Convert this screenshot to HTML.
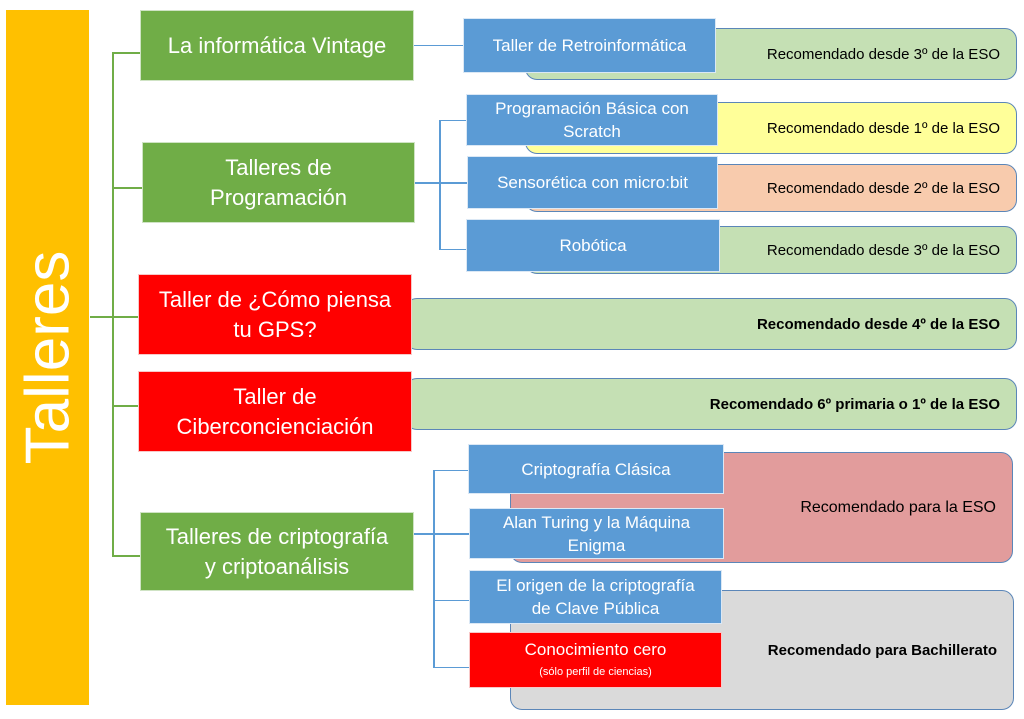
<!DOCTYPE html>
<html><head><meta charset="utf-8"><style>
body{margin:0;width:1024px;height:719px;background:#fff;position:relative;overflow:hidden;font-family:"Liberation Sans",sans-serif}
.a{position:absolute;box-sizing:border-box;display:flex;align-items:center;justify-content:center;text-align:center;color:#fff}
.g{background:#70ad47;font-size:22px;line-height:30px;border:1px solid #cfe3c4}
.r{background:#ff0000;font-size:22px;line-height:30px;border:1px solid #f8c8c8}
.b{background:#5b9bd5;font-size:17px;line-height:23px;border:1px solid #dbe8f5}
.rec{position:absolute;box-sizing:border-box;border:1.5px solid #5b86b8;border-radius:12px;display:flex;align-items:center;justify-content:flex-end;padding-right:16px;color:#000;font-size:15px}
.l{position:absolute;background:#70ad47}
.bl{position:absolute;background:#5b9bd5}
</style></head><body>
<div class="a" style="left:6px;top:10px;width:83px;height:695px;background:#ffc000"><div style="transform:rotate(-90deg);font-size:62px;white-space:nowrap;margin-top:0px">Talleres</div></div>
<div class="l" style="left:112px;top:52px;width:2px;height:504px"></div>
<div class="l" style="left:90px;top:316px;width:48px;height:2px"></div>
<div class="l" style="left:112px;top:52px;width:28px;height:2px"></div>
<div class="l" style="left:112px;top:187px;width:30px;height:2px"></div>
<div class="l" style="left:112px;top:405px;width:26px;height:2px"></div>
<div class="l" style="left:112px;top:555px;width:28px;height:2px"></div>

<div class="rec" style="left:525px;top:28px;width:492px;height:52px;background:#c5e0b4">Recomendado desde 3º de la ESO</div>
<div class="rec" style="left:525px;top:102px;width:492px;height:52px;background:#ffff99">Recomendado desde 1º de la ESO</div>
<div class="rec" style="left:525px;top:164px;width:492px;height:48px;background:#f8cbad">Recomendado desde 2º de la ESO</div>
<div class="rec" style="left:525px;top:226px;width:492px;height:48px;background:#c5e0b4">Recomendado desde 3º de la ESO</div>
<div class="rec" style="left:405px;top:298px;width:612px;height:52px;background:#c5e0b4;font-weight:bold">Recomendado desde 4º de la ESO</div>
<div class="rec" style="left:405px;top:378px;width:612px;height:52px;background:#c5e0b4;font-weight:bold">Recomendado 6º primaria o 1º de la ESO</div>
<div class="rec" style="left:510px;top:452px;width:503px;height:111px;background:#e29c9c;align-items:flex-start;padding-top:46px;font-size:16px">Recomendado para la ESO</div>
<div class="rec" style="left:510px;top:590px;width:504px;height:120px;background:#dadada;font-weight:bold">Recomendado para Bachillerato</div>

<div class="a g" style="left:140px;top:10px;width:274px;height:71px">La informática Vintage</div>
<div class="a g" style="left:142px;top:142px;width:273px;height:81px">Talleres de<br>Programación</div>
<div class="a r" style="left:138px;top:274px;width:274px;height:81px">Taller de ¿Cómo piensa<br>tu GPS?</div>
<div class="a r" style="left:138px;top:371px;width:274px;height:81px">Taller de<br>Ciberconcienciación</div>
<div class="a g" style="left:140px;top:512px;width:274px;height:79px">Talleres de criptografía<br>y criptoanálisis</div>

<div class="bl" style="left:414px;top:45px;width:49px;height:1px"></div>
<div class="bl" style="left:415px;top:182px;width:52px;height:2px"></div>
<div class="bl" style="left:439px;top:120px;width:2px;height:130px"></div>
<div class="bl" style="left:439px;top:120px;width:27px;height:1px"></div>
<div class="bl" style="left:439px;top:249px;width:27px;height:1px"></div>
<div class="bl" style="left:414px;top:533px;width:55px;height:2px"></div>
<div class="bl" style="left:433px;top:470px;width:2px;height:198px"></div>
<div class="bl" style="left:433px;top:470px;width:35px;height:1px"></div>
<div class="bl" style="left:433px;top:600px;width:36px;height:1px"></div>
<div class="bl" style="left:433px;top:667px;width:36px;height:1px"></div>

<div class="a b" style="left:463px;top:18px;width:253px;height:55px">Taller de Retroinformática</div>
<div class="a b" style="left:466px;top:94px;width:252px;height:52px">Programación Básica con<br>Scratch</div>
<div class="a b" style="left:467px;top:156px;width:251px;height:53px">Sensorética con micro:bit</div>
<div class="a b" style="left:466px;top:219px;width:254px;height:53px;align-items:flex-start;padding-top:14px">Robótica</div>
<div class="a b" style="left:468px;top:444px;width:256px;height:50px">Criptografía Clásica</div>
<div class="a b" style="left:469px;top:508px;width:255px;height:51px">Alan Turing y la Máquina<br>Enigma</div>
<div class="a b" style="left:469px;top:570px;width:253px;height:54px">El origen de la criptografía<br>de Clave Pública</div>
<div class="a r" style="left:469px;top:632px;width:253px;height:56px;flex-direction:column;font-size:17px;line-height:24px">Conocimiento cero<span style="font-size:11px;line-height:20px">(sólo perfil de ciencias)</span></div>
</body></html>
